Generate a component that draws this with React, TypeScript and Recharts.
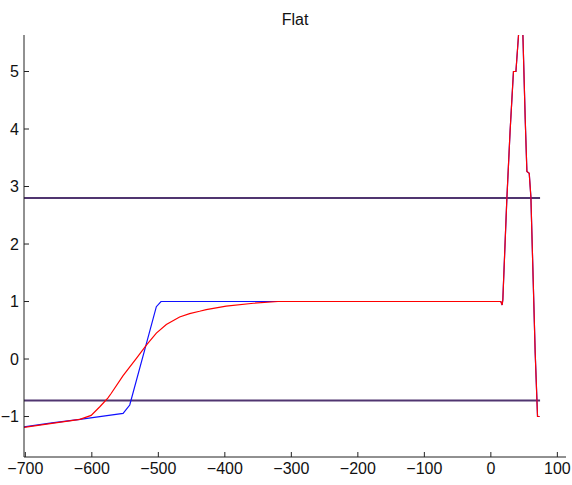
import React from 'react';
import { LineChart, Line, XAxis, YAxis, ReferenceLine } from 'recharts';

// blue trace (ramp, flat plateau)
const blueX = [-702, -660, -618, -580, -553, -543, -520, -503, -496, 0, 15, 17, 18];
const blueY = [-1.18, -1.11, -1.05, -0.99, -0.945, -0.8, 0.18, 0.91, 1.0, 1.0, 1.0, 0.94, 1.03];

// red trace (smooth rise)
const redX = [-702, -660, -618, -601, -588, -576, -571, -553, -533, -518, -503, -488, -468, -453, -438, -428, -398, -357, -320, 0, 15, 17, 18];
const redY = [-1.19, -1.12, -1.05, -0.98, -0.83, -0.68, -0.6, -0.29, 0.01, 0.24, 0.45, 0.6, 0.73, 0.79, 0.83, 0.86, 0.92, 0.97, 1.0, 1.0, 1.0, 0.94, 1.03];

// spike shared by both traces
const peakX = [24, 29, 34, 37.7, 41.6, 44.5, 48.2, 51.7, 54.2, 57.7, 60.2, 66.7, 70.2, 73.2];
const peakY = [2.77, 3.98, 5.0, 5.0, 5.63, 6.3, 5.63, 4.16, 3.26, 3.23, 2.82, 0.1, -1.0, -1.0];

const thresholds = [2.8, -0.72];
const xTicks = [-700, -600, -500, -400, -300, -200, -100, 0, 100];
const yTicks = [-1, 0, 1, 2, 3, 4, 5];

const toPoints = (xs: number[], ys: number[]) => xs.map((x, i) => ({ x, y: ys[i] }));
const blueData = toPoints([...blueX, ...peakX], [...blueY, ...peakY]);
const redData = toPoints([...redX, ...peakX], [...redY, ...peakY]);

const font = '"Liberation Sans", Arial, sans-serif';
const fmt = (v: number) => String(v).replace('-', '\u2212');

export default function App() {
  return (
    <div style={{ position: 'absolute', left: 0, top: 0, width: 572, height: 485, background: '#fff', fontFamily: font }}>
      <div style={{ position: 'absolute', left: 24, top: 12, width: 542, textAlign: 'center', fontSize: 16, lineHeight: '16px', color: '#111' }}>
        Flat
      </div>
      <LineChart width={572} height={485} margin={{ top: 35, right: 6, left: 0, bottom: 0 }}>
        <XAxis
          type="number"
          dataKey="x"
          domain={[-702, 113]}
          ticks={xTicks}
          allowDataOverflow
          height={28}
          tickSize={-5}
          tickMargin={11}
          tickFormatter={fmt}
          axisLine={{ stroke: '#222' }}
          tickLine={{ stroke: '#222' }}
          tick={{ fill: '#111', fontSize: 16, fontFamily: font }}
        />
        <YAxis
          type="number"
          dataKey="y"
          domain={[-1.704, 5.635]}
          ticks={yTicks}
          allowDataOverflow
          width={24}
          tickSize={-5}
          tickMargin={10}
          tickFormatter={fmt}
          axisLine={{ stroke: '#222' }}
          tickLine={{ stroke: '#222' }}
          tick={{ fill: '#111', fontSize: 16, fontFamily: font }}
        />
        {thresholds.map((t) => (
          <ReferenceLine
            key={t}
            segment={[{ x: -702, y: t }, { x: 74, y: t }]}
            stroke="#503570"
            strokeWidth={2}
          />
        ))}
        <Line data={blueData} dataKey="y" type="linear" stroke="#1010ff" strokeWidth={1.2} dot={false} isAnimationActive={false} />
        <Line data={redData} dataKey="y" type="linear" stroke="#ff0000" strokeWidth={1.2} dot={false} isAnimationActive={false} />
      </LineChart>
    </div>
  );
}
